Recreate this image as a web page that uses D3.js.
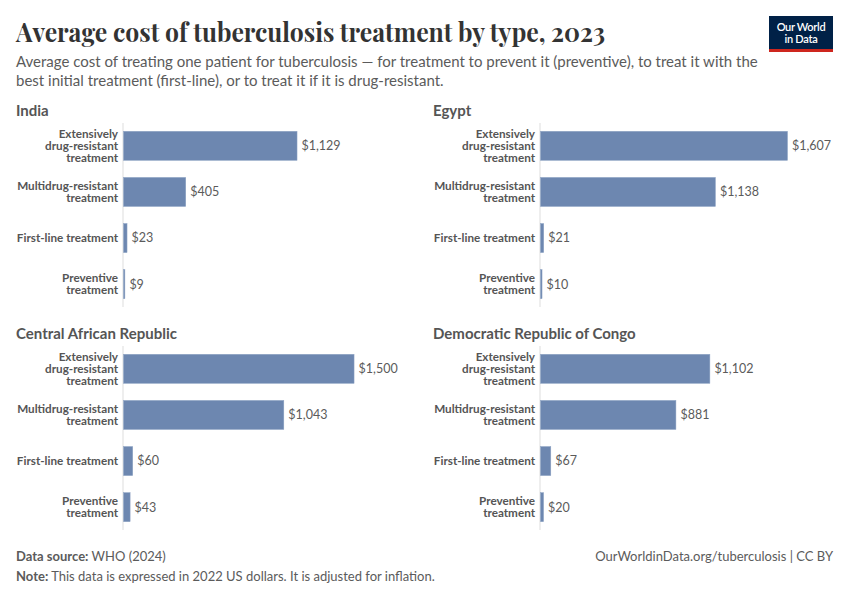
<!DOCTYPE html>
<html>
<head>
<meta charset="utf-8">
<script src="https://cdn.jsdelivr.net/npm/d3@7"></script>
<style>
  body { margin: 0; background: #fff; }
  text { font-family: Lato, "Noto Sans", sans-serif; }
</style>
</head>
<body>
<svg id="chart" width="850" height="600"></svg>
<script>
// data
var countries = ["India", "Egypt", "Central African Republic", "Democratic Republic of Congo"];
var treatments = [
  ["Extensively", "drug-resistant", "treatment"],
  ["Multidrug-resistant", "treatment"],
  ["First-line treatment"],
  ["Preventive", "treatment"]
];
var india = [1129, 405, 23, 9];
var egypt = [1607, 1138, 21, 10];
var car = [1500, 1043, 60, 43];
var drc = [1102, 881, 67, 20];
var values = [india, egypt, car, drc];

var svg = d3.select("#chart");
var barColor = "#6d87b0";
var textColor = "#5b5b5b";

// title + subtitle
svg.append("text")
  .attr("x", 16).attr("y", 42)
  .attr("textLength", 589).attr("lengthAdjust", "spacingAndGlyphs")
  .style("font-family", "'Playfair Display', 'Liberation Serif', serif")
  .style("font-size", "27px")
  .style("font-weight", 700)
  .style("fill", "#333")
  .text("Average cost of tuberculosis treatment by type, 2023");

var sub = [
  "Average cost of treating one patient for tuberculosis \u2014 for treatment to prevent it (preventive), to treat it with the",
  "best initial treatment (first-line), or to treat it if it is drug-resistant."
];
svg.selectAll(".sub").data(sub).enter().append("text")
  .attr("x", 16).attr("y", (d, i) => 67 + i * 19)
  .style("font-size", "15px").style("fill", textColor)
  .text(d => d);

// logo
var logo = svg.append("g").attr("transform", "translate(769,16)");
logo.append("rect").attr("width", 64).attr("height", 36).attr("fill", "#002147");
logo.append("rect").attr("y", 33).attr("width", 64).attr("height", 3).attr("fill", "#ce261e");
logo.selectAll("text").data(["Our World", "in Data"]).enter().append("text")
  .attr("x", 32).attr("y", (d, i) => 15 + i * 12)
  .attr("text-anchor", "middle")
  .style("font-size", "11px").style("font-weight", 600).style("fill", "#fff")
  .style("letter-spacing", "-0.3px")
  .text(d => d);

// shared scale
var x = d3.scaleLinear().domain([0, 1607]).range([0, 247]);
var y = d3.scaleBand().domain(d3.range(treatments.length)).range([0, 184]).paddingInner(0.37).paddingOuter(0.18);

var panels = [
  { x: 16, y: 116, axisX: 123 },
  { x: 433, y: 116, axisX: 540 },
  { x: 16, y: 339, axisX: 123 },
  { x: 433, y: 339, axisX: 540 }
];

panels.forEach(function (p, k) {
  var g = svg.append("g");
  g.append("text")
    .attr("x", p.x).attr("y", p.y)
    .style("font-size", "15px").style("font-weight", 700).style("fill", "#555")
    .text(countries[k]);

  var area = g.append("g").attr("transform", "translate(" + p.axisX + "," + (p.y + 7) + ")");

  area.append("line")
    .attr("x1", 0).attr("x2", 0).attr("y1", 0).attr("y2", 184)
    .attr("stroke", "#ddd").attr("stroke-width", 1);

  var rows = area.selectAll(".row").data(values[k]).enter().append("g");

  rows.append("rect")
    .attr("x", 0.5)
    .attr("y", (d, i) => y(i))
    .attr("width", d => Math.max(1, x(d)))
    .attr("height", y.bandwidth())
    .attr("fill", barColor)
    .attr("stroke", "#8ea3c4").attr("stroke-width", 0.5);

  rows.append("text")
    .attr("x", d => x(d) + 5)
    .attr("y", (d, i) => y(i) + y.bandwidth() / 2)
    .attr("dy", "0.35em")
    .style("font-size", "12.5px").style("fill", textColor)
    .text(d => "$" + d3.format(",")(d));

  rows.each(function (d, i) {
    var lines = treatments[i];
    var t = d3.select(this).append("text")
      .attr("text-anchor", "end")
      .style("font-size", "11.7px").style("font-weight", 700).style("fill", "#555");
    var cy = y(i) + y.bandwidth() / 2;
    lines.forEach(function (l, j) {
      t.append("tspan")
        .attr("x", -5)
        .attr("y", cy + (j - (lines.length - 1) / 2) * 12)
        .attr("dy", "0.35em")
        .text(l);
    });
  });
});

// footer
svg.append("text").attr("x", 16).attr("y", 561)
  .style("font-size", "13px").style("fill", textColor)
  .html("<tspan style='font-weight:700'>Data source:</tspan> WHO (2024)");
svg.append("text").attr("x", 16).attr("y", 581)
  .style("font-size", "13px").style("fill", textColor)
  .html("<tspan style='font-weight:700'>Note:</tspan> This data is expressed in 2022 US dollars. It is adjusted for inflation.");
svg.append("text").attr("x", 833).attr("y", 561).attr("text-anchor", "end")
  .style("font-size", "13px").style("fill", textColor)
  .text("OurWorldinData.org/tuberculosis | CC BY");
</script>
</body>
</html>
